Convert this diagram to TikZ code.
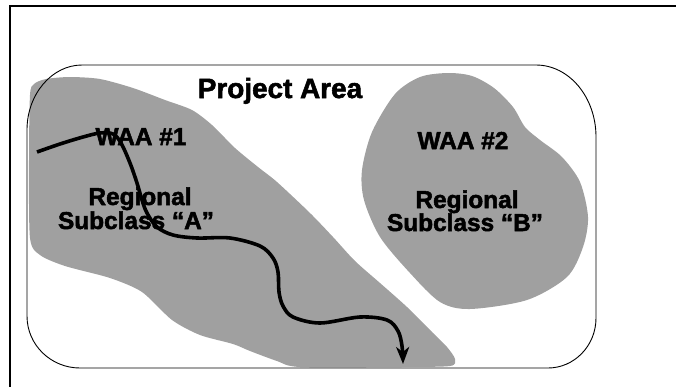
\documentclass[tikz,border=0pt]{standalone}
\usepackage{fontspec}
\setmainfont{Liberation Sans}
\newfontfamily\heavyfont{Liberation Sans Bold}[FakeBold=2]
\usetikzlibrary{arrows.meta}

\definecolor{zonegray}{RGB}{160,160,160}

\tikzset{
  frameline/.style={line width=2.4bp, line cap=rect},
  areaoutline/.style={line width=0.9bp},
  zone/.style={fill=zonegray, draw=none},
  stream/.style={line width=3.6bp, line join=round,
    -{Stealth[length=17bp,width=13bp,inset=5bp]}},
  titlelabel/.style={font=\heavyfont\fontsize{28}{30}\selectfont, inner sep=0pt, anchor=base},
  zonelabel/.style={font=\heavyfont\fontsize{24.5}{26}\selectfont, inner sep=0pt, anchor=base}
}

\begin{document}
\begin{tikzpicture}[x=1bp,y=-1bp]
  \useasboundingbox (0,0) rectangle (676,386);

  % page frame: left and top edges only
  \draw[frameline] (10,390) -- (10,6) -- (680,6);

  % WAA #1 zone
  \fill[zone] plot[smooth cycle, tension=0.45] coordinates {
    (30,95) (34,84) (46,79) (70,77) (100,79) (133,88) (165,100)
    (192,110) (212,125) (235,148) (258,167) (277,182) (310,213)
    (333,237) (355,261) (380,283) (407,307) (433,333) (447,347)
    (455,359) (450,366) (400,367) (300,367) (277,361) (250,351)
    (233,344) (200,335) (172,320) (142,292) (110,278) (65,266)
    (40,255) (30,238) (29,160)};

  % WAA #2 zone
  \fill[zone] plot[smooth cycle, tension=0.5] coordinates {
    (448,73) (472,76) (494,88) (513,107) (525,127) (540,140)
    (562,157) (580,182) (588,217) (583,247) (567,277) (527,300)
    (470,309) (440,302) (410,273) (380,237) (364,200) (362,170)
    (372,132) (395,94) (420,77)};

  % project area boundary
  \draw[areaoutline]
    (82,65) -- (536,65)
    .. controls (569,65) and (596,97) .. (596,137)
    -- (596,318)
    .. controls (596,346) and (574,368) .. (548,368)
    -- (80,368)
    .. controls (51,368) and (27,345) .. (27,316)
    -- (27,130)
    .. controls (27,94) and (52,65) .. (82,65) -- cycle;

  % labels
  \node[titlelabel] (title) at (280,98) {Project Area};
  \node[zonelabel] (waa1) at (141,145) {WAA \#1};
  \node[zonelabel] (regA) at (140,205) {Regional};
  \node[zonelabel] (subA) at (136,229) {Subclass “A”};
  \node[zonelabel] (waa2) at (463,149) {WAA \#2};
  \node[zonelabel] (regB) at (467,208) {Regional};
  \node[zonelabel] (subB) at (465,231) {Subclass “B”};

  % stream
  \coordinate (streamend) at (403,364);
  \draw[stream] plot[smooth, tension=0.55] coordinates {
    (37,152) (60,144) (83,137) (100,133) (113,134) (121,143)
    (130,163) (137,183) (142,200) (147,213) (157,227) (173,235)
    (197,238) (230,238) (260,246) (273,258) (278,272) (279,292)
    (283,306) (293,317) (320,323) (360,317) (387,320) (398,331)
    (402,346) (streamend)};
\end{tikzpicture}
\end{document}
